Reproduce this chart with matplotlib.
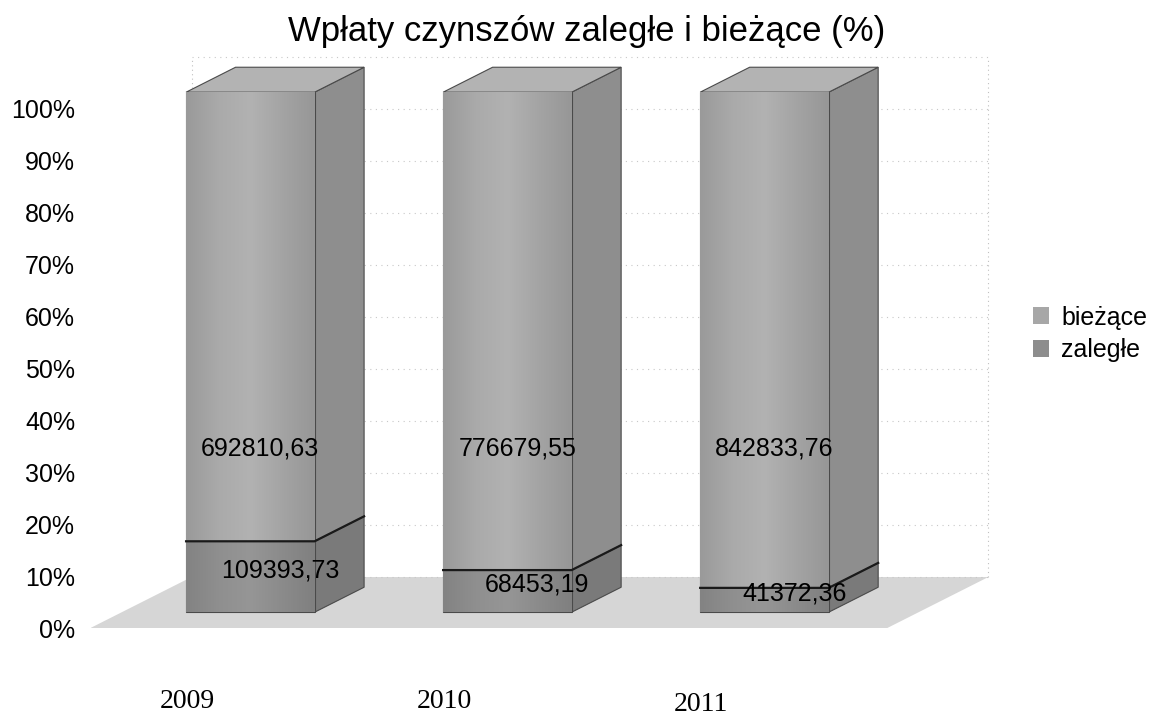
import numpy as np
import matplotlib.pyplot as plt
from matplotlib.patches import Polygon, Patch
from matplotlib.colors import LinearSegmentedColormap

# data
years = ['2009', '2010', '2011']
biezace = np.array([692810.63, 776679.55, 842833.76])
zalegle = np.array([109393.73, 68453.19, 41372.36])

total = biezace + zalegle
zal_pct = zalegle / total * 100
bie_pct = biezace / total * 100

# pseudo 3d depth (full floor depth, in data units)
DX = 0.393
DY = 9.8
K_FRONT = 0.31
K_BACK = 0.80
WIDTH = 0.5
FLOOR_L, FLOOR_R = -0.5, 2.6

col_bie = {'front': '#a7a7a7', 'side': '#8e8e8e', 'top': '#b3b3b3'}
col_zal = {'front': '#8d8d8d', 'side': '#7a7a7a', 'top': '#999999'}
grad_bie = LinearSegmentedColormap.from_list('gb', ['#9a9a9a', '#aaaaaa', '#b2b2b2', '#a4a4a4', '#979797'])
grad_zal = LinearSegmentedColormap.from_list('gz', ['#838383', '#8f8f8f', '#969696', '#8b8b8b', '#808080'])

plt.rcParams['font.family'] = ['Liberation Sans', 'DejaVu Sans']


def proj(x, y, k):
    return (x + k * DX, y + k * DY)


fig = plt.figure(figsize=(11.62, 7.26), dpi=100)
ax = fig.add_axes([90.5 / 1162, 1 - 669.6 / 726, (1003 - 90.5) / 1162, (669.6 - 56) / 726])

# floor
floor = [proj(FLOOR_L, 0, 0), proj(FLOOR_R, 0, 0), proj(FLOOR_R, 0, 1), proj(FLOOR_L, 0, 1)]
ax.add_patch(Polygon(floor, closed=True, fc='#d6d6d6', ec='none', zorder=1))

# back wall gridlines
for p in range(0, 101, 10):
    a = proj(FLOOR_L, p, 1)
    b = proj(FLOOR_R, p, 1)
    ax.plot([a[0], b[0]], [a[1], b[1]], color='#c8c8c8', lw=0.8, ls=(0, (1, 4)), zorder=1)
for xe in [FLOOR_L, FLOOR_R]:
    a = proj(xe, 0, 1)
    b = proj(xe, 100, 1)
    ax.plot([a[0], b[0]], [a[1], b[1]], color='#c0c0c0', lw=0.8, ls=(0, (1, 3)), zorder=1)

xs = np.arange(len(years))


def draw_box(x, y0, y1, cols, top=False):
    l, r = x - WIDTH / 2, x + WIDTH / 2
    side = [proj(r, y0, K_FRONT), proj(r, y0, K_BACK), proj(r, y1, K_BACK), proj(r, y1, K_FRONT)]
    ax.add_patch(Polygon(side, closed=True, fc=cols['side'], ec='#4a4a4a', lw=0.8, zorder=3))
    if top:
        tp = [proj(l, y1, K_FRONT), proj(r, y1, K_FRONT), proj(r, y1, K_BACK), proj(l, y1, K_BACK)]
        ax.add_patch(Polygon(tp, closed=True, fc=cols['top'], ec='#4a4a4a', lw=0.8, zorder=3))


for i, x in enumerate(xs):
    draw_box(x, 0, zal_pct[i], col_zal)
    draw_box(x, zal_pct[i], 100, col_bie, top=True)

# front faces
fx = xs + K_FRONT * DX
fy = K_FRONT * DY
bz = ax.bar(fx, zal_pct, WIDTH, bottom=fy, color=col_zal['front'], edgecolor='#4a4a4a', lw=0.8, zorder=4)
bb = ax.bar(fx, bie_pct, WIDTH, bottom=fy + zal_pct, color=col_bie['front'], edgecolor='#4a4a4a', lw=0.8, zorder=4)

# soft shading on the front faces
grad = np.linspace(0, 1, 64).reshape(1, -1)
for bars, cmap in [(bz, grad_zal), (bb, grad_bie)]:
    for rect in bars:
        x0, y0 = rect.get_x(), rect.get_y()
        im = ax.imshow(grad, cmap=cmap, aspect='auto', zorder=4.1,
                       extent=(x0, x0 + rect.get_width(), y0, y0 + rect.get_height()))
        im.set_clip_path(rect)

# segment boundary lines
for i, x in enumerate(xs):
    pts = [proj(x - WIDTH / 2, zal_pct[i], K_FRONT), proj(x + WIDTH / 2, zal_pct[i], K_FRONT),
           proj(x + WIDTH / 2, zal_pct[i], K_BACK)]
    ax.plot([p[0] for p in pts], [p[1] for p in pts], color='#1a1a1a', lw=1.6, zorder=5)

# data labels
kmid = (K_FRONT + K_BACK) / 2
for i, x in enumerate(xs):
    lx, ly = proj(x, zal_pct[i] / 2 - 1.2, kmid)
    ax.text(lx + 0.02, ly, f'{zalegle[i]:.2f}'.replace('.', ','), ha='center', va='center',
            fontsize=18, zorder=6)
    ax.text(x + 0.16, 34.6, f'{biezace[i]:.2f}'.replace('.', ','), ha='center', va='center',
            fontsize=18, zorder=6)

ax.set_xlim(-0.5, 3.05)
ax.set_ylim(-8, 110)

# axes styling
ax.set_yticks(range(0, 101, 10))
ax.set_yticklabels([f'{p}%' for p in range(0, 101, 10)], fontsize=18)
ax.tick_params(axis='y', length=0, pad=11)
ax.set_xticks([])
for s in ax.spines.values():
    s.set_visible(False)

# year labels under chart
for i, x in enumerate(xs):
    ax.text(x - 0.125, -14.2 - (0.6 if i == 2 else 0), years[i], ha='center', va='center',
            fontsize=20, family=['Liberation Serif', 'DejaVu Serif'], clip_on=False)

fig.text(587 / 1162, 1 - 31 / 726, 'Wpłaty czynszów zaległe i bieżące (%)', ha='center', va='center',
         fontsize=25)

handles = [Patch(fc=col_bie['front'], ec='none'), Patch(fc=col_zal['front'], ec='none')]
fig.legend(handles, ['bieżące', 'zaległe'], loc='upper left', bbox_to_anchor=(1020 / 1162, 1 - 293 / 726),
           frameon=False, fontsize=18, handlelength=0.65, handleheight=0.65, handletextpad=0.5,
           labelspacing=0.35, borderpad=0)

fig.savefig('out.png', dpi=100)
